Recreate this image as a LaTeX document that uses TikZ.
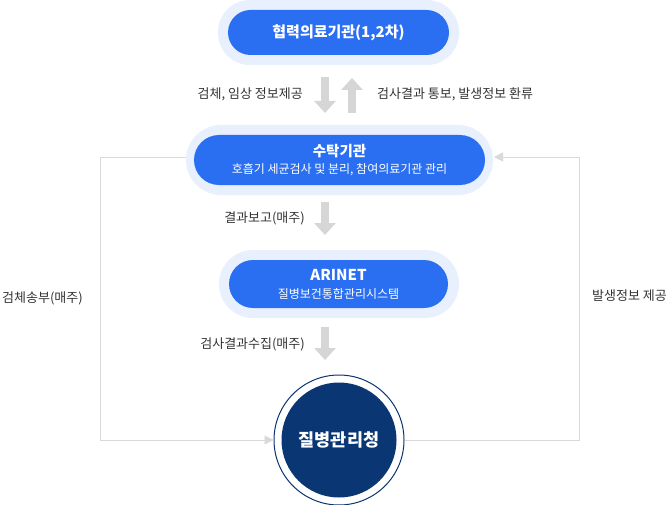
\documentclass[tikz,border=0pt]{standalone}
\usepackage{fontspec}
\setmainfont{Noto Sans CJK KR}
\usetikzlibrary{arrows.meta,positioning}
\definecolor{pillblue}{HTML}{2A6FF2}
\definecolor{halo}{HTML}{E9F0FD}
\definecolor{navy}{HTML}{0B3674}
\definecolor{arrowgray}{HTML}{D6D6D6}
\definecolor{linegray}{HTML}{D9D9D9}
\definecolor{txt}{HTML}{333333}
\tikzset{
  halopill/.style={rounded corners=32pt, fill=halo, draw=none},
  pill/.style={rectangle, rounded corners=22pt, fill=pillblue, text=white, align=center, inner sep=0pt},
  lbl/.style={text=txt, font=\fontsize{13}{15}\selectfont, inner sep=0pt},
  blockarrow/.style={draw=arrowgray, line width=7.5pt, -{Triangle[width=21pt,length=12pt]}},
  feed/.style={draw=linegray, line width=0.8pt},
  feedtip/.style={-{Triangle[width=9pt,length=9pt,fill=linegray]}}
}
\begin{document}
\begin{tikzpicture}[x=1pt,y=-1pt]
\useasboundingbox (0,0) rectangle (671,505);
\fill[white] (0,0) rectangle (671,505);

% Box 1
\fill[halopill, rounded corners=32pt] (218,0) rectangle (459,65);
\node[pill, minimum width=221pt, minimum height=45pt, rounded corners=22.5pt,
      font=\bfseries\fontsize{15}{17}\selectfont] (b1) at (338.5,32.5) {협력의료기관(1,2차)};

% Box 2
\fill[halopill, rounded corners=35pt] (186,125) rectangle (493,195);
\node[pill, minimum width=291pt, minimum height=50pt, rounded corners=25pt] (b2) at (339.5,160) {};
\node[text=white, font=\bfseries\fontsize{14.5}{16}\selectfont, inner sep=0pt] (b2t) at (339.5,151) {수탁기관};
\node[text=white, font=\fontsize{12}{13}\selectfont, inner sep=0pt] (b2s) at (339.5,170) {호흡기 세균검사 및 분리, 참여의료기관 관리};

% Box 3
\fill[halopill, rounded corners=34pt] (219,250) rectangle (459,318);
\node[pill, minimum width=219pt, minimum height=48pt, rounded corners=24pt] (b3) at (338.5,284) {};
\node[text=white, font=\bfseries\fontsize{15}{16}\selectfont, inner sep=0pt] (b3t) at (338.5,275) {ARINET};
\node[text=white, font=\fontsize{12}{13}\selectfont, inner sep=0pt] (b3s) at (338.5,294) {질병보건통합관리시스템};

% Circle
\node[circle, draw=navy, line width=1pt, minimum size=130pt, inner sep=0pt] (c4ring) at (339,440) {};
\node[circle, fill=navy, minimum size=115pt, inner sep=0pt, text=white,
      font=\bfseries\fontsize{17.5}{20}\selectfont] (c4) at (339,440) {질병관리청};

% Block arrows
\coordinate (a1s) at (325,77);  \coordinate (a1e) at (325,113);
\coordinate (a2s) at (352,113); \coordinate (a2e) at (352,78);
\coordinate (a3s) at (325,202); \coordinate (a3e) at (325,235);
\coordinate (a4s) at (325,327); \coordinate (a4e) at (325,360);
\draw[blockarrow] (a1s) -- (a1e);
\draw[blockarrow] (a2s) -- (a2e);
\draw[blockarrow] (a3s) -- (a3e);
\draw[blockarrow] (a4s) -- (a4e);

% Labels
\node[lbl, anchor=east] (l1) at (303,94) {검체, 임상 정보제공};
\node[lbl, anchor=west] (l2) at (377,94) {검사결과 통보, 발생정보 환류};
\node[lbl, anchor=east] (l3) at (305,218) {결과보고(매주)};
\node[lbl, anchor=east] (l4) at (305,344) {검사결과수집(매주)};
\node[lbl, anchor=west] (l5) at (2,298) {검체송부(매주)};
\node[lbl, anchor=west] (l6) at (592,296) {발생정보 제공};

% Feedback lines
\coordinate (lt) at (100,157); \coordinate (lb) at (100,440);
\coordinate (rt) at (579,157); \coordinate (rb) at (579,440);
\draw[feed] (186,157) -- (lt) -- (lb) -- (264,440);
\draw[feed, feedtip] (264,440) -- (c4ring.west);
\draw[feed] (c4ring.east) -- (rb) -- (rt) -- (503,157);
\draw[feed, feedtip] (503,157) -- (494,157);
\end{tikzpicture}
\end{document}
